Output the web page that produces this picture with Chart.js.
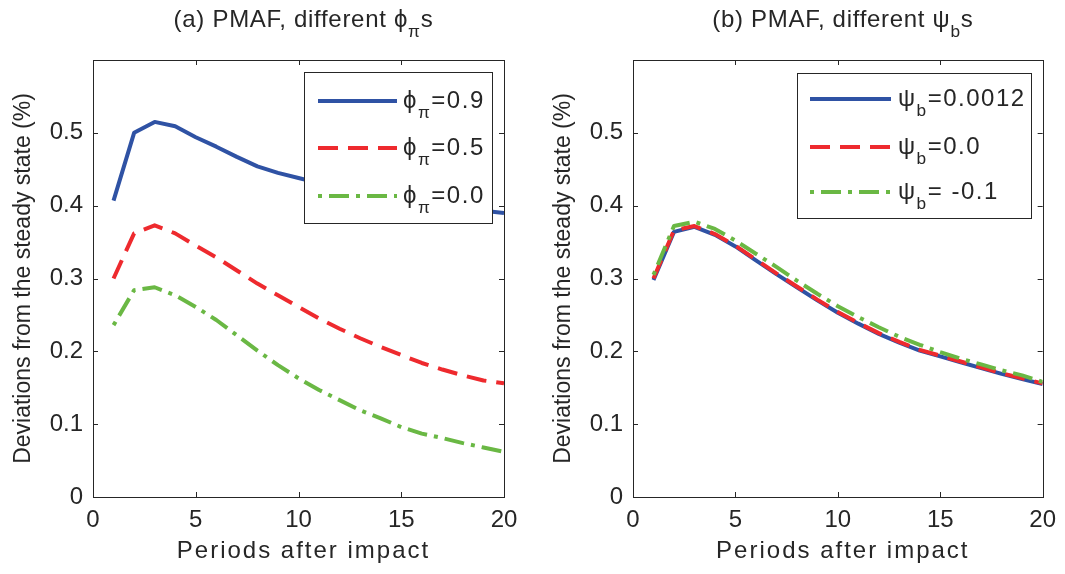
<!DOCTYPE html>
<html>
<head>
<meta charset="utf-8">
<script src="https://cdn.jsdelivr.net/npm/chart.js@4.4.1/dist/chart.umd.min.js"></script>
<style>
    html, body { margin: 0; padding: 0; background: #fff; }
    #wrap { position: relative; width: 1065px; height: 574px; overflow: hidden; }
    #panelA { position: absolute; left: 0; top: 0; }
    #panelB { position: absolute; left: 540px; top: 0; }
</style>
</head>
<body>
<div id="wrap">
    <canvas id="panelA" width="540" height="574"></canvas>
    <canvas id="panelB" width="525" height="574"></canvas>
</div>
<script>
// Data
const periods = [1, 2, 3, 4, 5, 6, 7, 8, 9, 10, 11, 12, 13, 14, 15, 16, 17, 18, 19, 20];

// (a) different phi_pi
const phi09 = [0.407, 0.500, 0.515, 0.509, 0.494, 0.481, 0.467, 0.454, 0.445, 0.438,
               0.431, 0.424, 0.418, 0.412, 0.407, 0.403, 0.399, 0.396, 0.393, 0.390];
const phi05 = [0.300, 0.362, 0.373, 0.362, 0.345, 0.329, 0.311, 0.293, 0.277, 0.261,
               0.245, 0.231, 0.218, 0.206, 0.195, 0.184, 0.175, 0.167, 0.160, 0.156];
const phi00 = [0.236, 0.284, 0.288, 0.277, 0.261, 0.243, 0.222, 0.201, 0.181, 0.163,
               0.147, 0.133, 0.119, 0.108, 0.096, 0.087, 0.081, 0.074, 0.068, 0.062];

// (b) different psi_b
const psi0012 = [0.298, 0.364, 0.371, 0.360, 0.344, 0.325, 0.306, 0.288, 0.270, 0.253,
                 0.238, 0.224, 0.212, 0.201, 0.193, 0.185, 0.177, 0.169, 0.162, 0.155];
const psi00 = [0.300, 0.366, 0.372, 0.361, 0.345, 0.326, 0.307, 0.289, 0.271, 0.254,
               0.239, 0.225, 0.213, 0.202, 0.194, 0.186, 0.178, 0.170, 0.163, 0.156];
const psiNeg01 = [0.305, 0.372, 0.378, 0.368, 0.352, 0.334, 0.316, 0.297, 0.279, 0.262,
                  0.247, 0.233, 0.220, 0.209, 0.199, 0.190, 0.182, 0.174, 0.167, 0.158];

const phiLabels = ["=0.9", "=0.5", "=0.0"];
const psiLabels = ["=0.0012", "=0.0", "= -0.1"];

const FONT = "'Liberation Sans', Arial, sans-serif";
const INK = "#262626";
const BLUE = "#2f52a4";
const RED = "#ee2a2e";
const GREEN = "#6ab844";

// draw text made of pieces, some of them subscripts
function drawRich(ctx, parts, x, y, size, align, spacing) {
    ctx.save();
    ctx.letterSpacing = spacing + "px";
    ctx.textBaseline = "middle";
    ctx.textAlign = "left";
    let total = 0;
    parts.forEach(p => {
        ctx.font = (p.sub ? size * 0.72 : size) + "px " + FONT;
        total += ctx.measureText(p.t).width;
    });
    let cx = align === "center" ? x - total / 2 : x;
    parts.forEach(p => {
        ctx.font = (p.sub ? size * 0.72 : size) + "px " + FONT;
        ctx.fillText(p.t, cx, p.sub ? y + size * 0.5 : y);
        cx += ctx.measureText(p.t).width;
    });
    ctx.restore();
}

// box, inward ticks, titles and legend in MATLAB style
const framePlugin = {
    id: "frame",
    afterDraw(chart, args, opts) {
        const ctx = chart.ctx;
        const a = chart.chartArea;
        const xs = chart.scales.x;
        const ys = chart.scales.y;
        const mid = (a.left + a.right) / 2 + 5;
        ctx.save();
        ctx.strokeStyle = INK;
        ctx.lineWidth = 1;
        ctx.beginPath();
        xs.ticks.forEach(t => {
            const px = Math.round(xs.getPixelForValue(t.value)) + 0.5;
            ctx.moveTo(px, a.bottom); ctx.lineTo(px, a.bottom - 5);
            ctx.moveTo(px, a.top); ctx.lineTo(px, a.top + 5);
        });
        ys.ticks.forEach(t => {
            const py = Math.round(ys.getPixelForValue(t.value)) + 0.5;
            ctx.moveTo(a.left, py); ctx.lineTo(a.left + 5, py);
            ctx.moveTo(a.right, py); ctx.lineTo(a.right - 5, py);
        });
        ctx.stroke();
        ctx.strokeRect(Math.round(a.left) + 0.5, Math.round(a.top) + 0.5,
                       Math.round(a.width), Math.round(a.height));
        ctx.restore();

        // panel title and x axis title
        ctx.fillStyle = INK;
        drawRich(ctx, opts.title, mid, 20, 24, "center", 0.7);
        drawRich(ctx, [{t: "Periods after impact"}], mid, 551, 24, "center", 2);

        // legend
        const lg = opts.legend;
        ctx.save();
        ctx.fillStyle = "#fff";
        ctx.fillRect(lg.x, lg.y, lg.w, lg.h);
        ctx.strokeStyle = INK;
        ctx.lineWidth = 1;
        ctx.strokeRect(lg.x + 0.5, lg.y + 0.5, lg.w, lg.h);
        chart.data.datasets.forEach((ds, i) => {
            const ry = lg.rows[i];
            ctx.save();
            ctx.strokeStyle = ds.borderColor;
            ctx.lineWidth = ds.borderWidth;
            ctx.setLineDash(ds.borderDash || []);
            ctx.beginPath();
            ctx.moveTo(lg.lineFrom, ry);
            ctx.lineTo(lg.lineTo, ry);
            ctx.stroke();
            ctx.restore();
            ctx.fillStyle = INK;
            drawRich(ctx, [{t: lg.sym}, {t: lg.sub, sub: true}, {t: lg.labels[i]}], lg.textX, ry, 24, "left", 1.5);
        });
        ctx.restore();
    }
};

const toPoints = vals => periods.map((p, i) => ({x: p, y: vals[i]}));

// green on top, blue underneath, as in the figure
const makeDatasets = (solid, dashed, dashDot) => [
    {data: toPoints(solid), borderColor: BLUE, borderWidth: 4, borderDash: [], order: 2},
    {data: toPoints(dashed), borderColor: RED, borderWidth: 4, borderDash: [20, 10], order: 1},
    {data: toPoints(dashDot), borderColor: GREEN, borderWidth: 4, borderDash: [4, 7, 20, 7], order: 0},
];

const makeChart = (canvas, datasets, padRight, frame) => new Chart(canvas, {
    type: "line",
    data: {datasets: datasets},
    options: {
        responsive: false,
        animation: false,
        layout: {padding: {left: 0, top: 60, right: padRight, bottom: 0}},
        elements: {
            point: {radius: 0},
            line: {tension: 0, fill: false, borderCapStyle: "butt", borderJoinStyle: "round"}
        },
        plugins: {
            legend: {display: false},
            tooltip: {enabled: false},
            frame: frame
        },
        scales: {
            x: {
                type: "linear",
                min: 0,
                max: 20,
                afterFit: s => { s.height = 77; },
                grid: {display: false, drawTicks: false},
                border: {display: false},
                ticks: {stepSize: 5, padding: 9, color: INK, font: {family: FONT, size: 24}}
            },
            y: {
                min: 0,
                max: 0.6,
                afterFit: s => { s.width = 93; },
                grid: {display: false, drawTicks: false},
                border: {display: false},
                ticks: {
                    stepSize: 0.1,
                    padding: 10,
                    color: INK,
                    font: {family: FONT, size: 24},
                    callback: v => (v > 0.55 ? "" : String(Math.round(v * 10) / 10))
                },
                title: {display: true, text: "Deviations from the steady state (%)", color: INK,
                        padding: {top: 10, bottom: 0}, font: {family: FONT, size: 23}}
            }
        }
    },
    plugins: [framePlugin]
});

makeChart(document.getElementById("panelA"), makeDatasets(phi09, phi05, phi00), 36, {
    title: [{t: "(a) PMAF, different "}, {t: "\u03d5"}, {t: "\u03c0", sub: true}, {t: "s"}],
    legend: {x: 304, y: 72, w: 188, h: 151, rows: [101, 148, 196],
             lineFrom: 318, lineTo: 397, textX: 403, sym: "\u03d5", sub: "\u03c0", labels: phiLabels}
});

makeChart(document.getElementById("panelB"), makeDatasets(psi0012, psi00, psiNeg01), 21, {
    title: [{t: "(b) PMAF, different "}, {t: "\u03c8"}, {t: "b", sub: true}, {t: "s"}],
    legend: {x: 257, y: 73, w: 234, h: 145, rows: [99, 147, 192],
             lineFrom: 270, lineTo: 351, textX: 358, sym: "\u03c8", sub: "b", labels: psiLabels}
});
</script>
</body>
</html>
